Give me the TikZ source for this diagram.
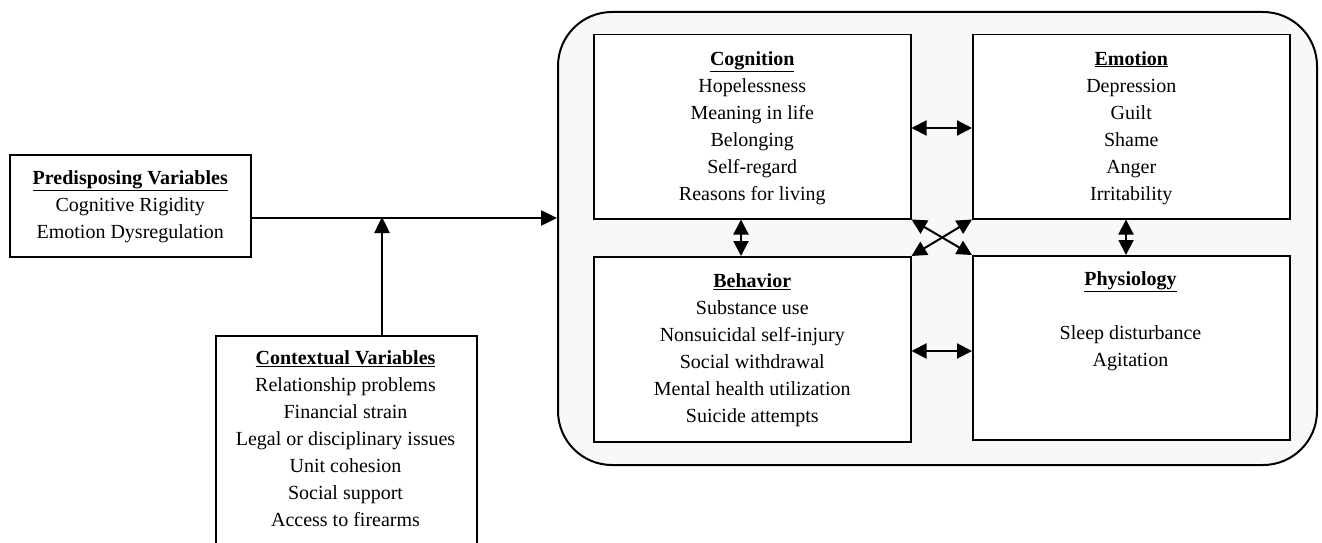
\documentclass[tikz,border=0pt]{standalone}
\usepackage{fontspec}
\setmainfont{Liberation Serif}
\usetikzlibrary{arrows.meta}
\definecolor{panel}{HTML}{F8F8F8}
\tikzset{
  box/.style={draw, line width=1.5pt, fill=white, inner sep=0pt, anchor=north west},
  txt/.style={align=center, font=\fontsize{20}{27}\selectfont, inner sep=0pt},
  arr/.style={line width=2.5pt, -{Triangle[length=16pt,width=15pt]}},
  darr/.style={line width=2pt, {Triangle[length=15pt,width=15pt]}-{Triangle[length=15pt,width=15pt]}},
}
\newcommand{\ttl}[1]{\textbf{\underline{#1}}}
\begin{document}
\begin{tikzpicture}[x=1pt,y=-1pt]
\useasboundingbox (0,0) rectangle (1322,543);
\clip (0,0) rectangle (1322,543);
% outer panel
\node[draw, line width=2pt, fill=panel, rounded corners=54pt, inner sep=0pt,
  minimum width=759pt, minimum height=453pt, anchor=north west] (outer) at (557,11) {};
% inner boxes
\node[box, minimum width=317pt, minimum height=184pt] (cog) at (593,34) {};
\node[box, minimum width=317pt, minimum height=184pt] (emo) at (972,34) {};
\node[box, minimum width=317pt, minimum height=185pt] (beh) at (593,256) {};
\node[box, minimum width=317pt, minimum height=184pt] (phy) at (972,255) {};
\node[box, minimum width=241pt, minimum height=102pt] (pred) at (9,154) {};
\node[box, minimum width=261pt, minimum height=230pt] (ctx) at (215,335) {};
% texts
\node[txt] (cogt) at ([yshift=-1pt]cog.center) {\ttl{Cognition}\\Hopelessness\\Meaning in life\\Belonging\\Self-regard\\Reasons for living};
\node[txt] (emot) at ([yshift=-1pt]emo.center) {\ttl{Emotion}\\Depression\\Guilt\\Shame\\Anger\\Irritability};
\node[txt] (beht) at ([yshift=-1pt]beh.center) {\ttl{Behavior}\\Substance use\\Nonsuicidal self-injury\\Social withdrawal\\Mental health utilization\\Suicide attempts};
\node[txt] (phyt) at (1130.5,321) {\ttl{Physiology}\\\mbox{}\\Sleep disturbance\\Agitation};
\node[txt] (predt) at ([yshift=-1pt]pred.center) {\ttl{Predisposing Variables}\\Cognitive Rigidity\\Emotion Dysregulation};
\node[txt] (ctxt) at (345.5,439) {\ttl{Contextual Variables}\\Relationship problems\\Financial strain\\Legal or disciplinary issues\\Unit cohesion\\Social support\\Access to firearms};
% helper coordinates
\coordinate (mainy) at (0,218);
\coordinate (ctxx) at (382,0);
\coordinate (r1) at (0,128);
\coordinate (r2) at (0,351);
\coordinate (c1) at (741,0);
\coordinate (c2) at (1126,0);
% arrows
\draw[arr] (pred.east |- mainy) -- (outer.west |- mainy);
\draw[arr] (ctx.north -| ctxx) -- ([yshift=1pt]ctxx |- mainy);
\draw[darr] (cog.east |- r1) -- (emo.west |- r1);
\draw[darr] (beh.east |- r2) -- (phy.west |- r2);
\draw[darr] (cog.south -| c1) -- (beh.north -| c1);
\draw[darr] (emo.south -| c2) -- (phy.north -| c2);
\draw[darr] (cog.south east) -- (phy.north west);
\draw[darr] (emo.south west) -- (beh.north east);
\end{tikzpicture}
\end{document}
